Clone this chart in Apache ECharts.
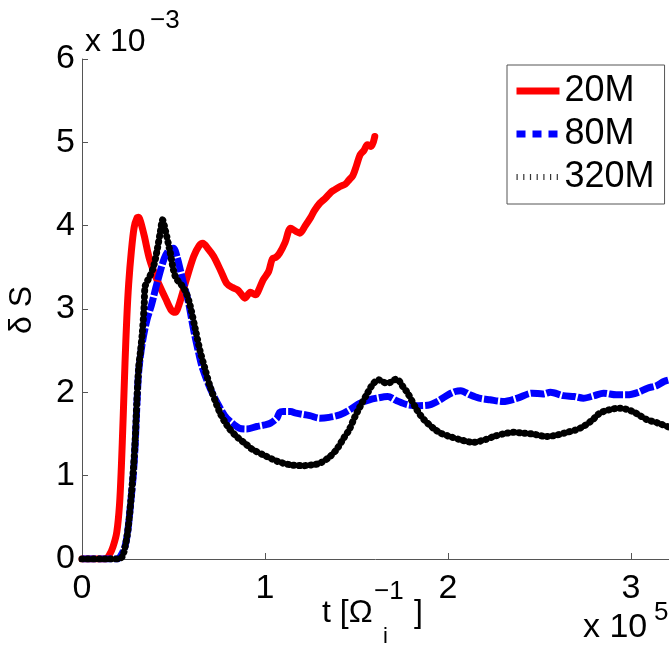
<!DOCTYPE html>
<html lang="en">
<head>
<meta charset="UTF-8">
<title>delta S</title>
<script src="https://cdnjs.cloudflare.com/ajax/libs/echarts/6.0.0/echarts.min.js"></script>
<style>
  html, body { margin: 0; padding: 0; background: #fff; }
  #chart { width: 669px; height: 654px; }
</style>
</head>
<body>
<div id="chart"></div>
<script>
// t in units of 1e5, dS in units of 1e-3
const seriesNames = ['20M', '80M', '320M'];

const red20M = [
  [0, 0], [0.1, 0], [0.13, 0], [0.15, 0.05], [0.17, 0.15], [0.19, 0.32], [0.205, 0.65], [0.215, 1.1],
  [0.225, 1.7], [0.235, 2.35], [0.245, 2.9], [0.255, 3.3], [0.27, 3.7], [0.285, 3.98], [0.3, 4.09],
  [0.31, 4.1], [0.32, 4.05], [0.34, 3.88], [0.37, 3.59], [0.41, 3.35], [0.46, 3.11], [0.49, 2.98],
  [0.51, 2.96], [0.53, 3.05], [0.57, 3.35], [0.61, 3.63], [0.64, 3.76], [0.66, 3.79], [0.69, 3.72],
  [0.72, 3.63], [0.76, 3.45], [0.79, 3.31], [0.82, 3.26], [0.85, 3.23], [0.87, 3.18], [0.89, 3.13],
  [0.92, 3.2], [0.95, 3.17], [0.97, 3.25], [0.99, 3.35], [1.02, 3.45], [1.04, 3.6], [1.06, 3.62],
  [1.08, 3.67], [1.11, 3.8], [1.14, 3.97], [1.17, 3.93], [1.19, 3.91], [1.22, 4.0], [1.25, 4.1],
  [1.27, 4.18], [1.3, 4.27], [1.33, 4.33], [1.36, 4.4], [1.38, 4.43], [1.41, 4.47], [1.44, 4.5],
  [1.46, 4.55], [1.48, 4.6], [1.5, 4.72], [1.52, 4.85], [1.54, 4.9], [1.56, 4.97], [1.58, 4.95],
  [1.6, 5.07]
];

const blue80M = [
  [0, 0], [0.15, 0], [0.195, 0], [0.215, 0.05], [0.235, 0.15], [0.25, 0.33], [0.265, 0.65], [0.28, 1.0],
  [0.29, 1.35], [0.3, 1.85], [0.31, 2.25], [0.33, 2.6], [0.355, 2.87], [0.38, 3.05], [0.41, 3.31],
  [0.45, 3.61], [0.48, 3.72], [0.5, 3.73], [0.52, 3.62], [0.55, 3.35], [0.58, 3.1], [0.61, 2.75],
  [0.64, 2.45], [0.66, 2.28], [0.7, 2.05], [0.74, 1.87], [0.78, 1.72], [0.81, 1.65], [0.86, 1.57],
  [0.9, 1.56], [0.955, 1.59], [1.0, 1.61], [1.03, 1.63], [1.065, 1.69], [1.08, 1.76], [1.1, 1.77],
  [1.14, 1.77], [1.17, 1.75], [1.245, 1.72], [1.3, 1.69], [1.35, 1.7], [1.41, 1.73], [1.47, 1.8],
  [1.52, 1.87], [1.57, 1.91], [1.61, 1.93], [1.67, 1.95], [1.72, 1.9], [1.78, 1.85], [1.84, 1.84],
  [1.9, 1.85], [1.95, 1.9], [2.0, 1.97], [2.04, 2.01], [2.07, 2.02], [2.12, 1.97], [2.17, 1.93],
  [2.23, 1.91], [2.3, 1.89], [2.38, 1.93], [2.46, 1.99], [2.52, 1.98], [2.56, 2.0], [2.63, 1.96],
  [2.69, 1.95], [2.74, 1.93], [2.8, 1.96], [2.85, 1.99], [2.92, 1.97], [2.98, 1.97], [3.04, 2.0],
  [3.09, 2.05], [3.14, 2.08], [3.18, 2.13], [3.21, 2.15]
];

const black320M = [
  [0, 0], [0.15, 0], [0.2, 0], [0.22, 0.03], [0.235, 0.14], [0.25, 0.33], [0.265, 0.65], [0.28, 1.05],
  [0.29, 1.4], [0.3, 1.9], [0.31, 2.3], [0.32, 2.5], [0.33, 2.72], [0.34, 3.05], [0.345, 3.27],
  [0.37, 3.39], [0.39, 3.5], [0.41, 3.7], [0.43, 3.95], [0.44, 4.07], [0.455, 3.95], [0.48, 3.7],
  [0.51, 3.39], [0.55, 3.27], [0.57, 3.19], [0.59, 3.05], [0.62, 2.75], [0.645, 2.5], [0.67, 2.3],
  [0.7, 2.07], [0.755, 1.75], [0.8, 1.58], [0.845, 1.47], [0.9, 1.37], [0.935, 1.31], [1.0, 1.24],
  [1.07, 1.17], [1.14, 1.13], [1.21, 1.12], [1.26, 1.13], [1.3, 1.15], [1.35, 1.22], [1.39, 1.31],
  [1.43, 1.45], [1.46, 1.55], [1.49, 1.7], [1.52, 1.83], [1.56, 1.99], [1.59, 2.1], [1.62, 2.15],
  [1.65, 2.12], [1.67, 2.11], [1.72, 2.16], [1.75, 2.08], [1.78, 1.99], [1.83, 1.79], [1.87, 1.67],
  [1.92, 1.57], [1.96, 1.51], [2.01, 1.47], [2.07, 1.43], [2.14, 1.4], [2.2, 1.43], [2.25, 1.47],
  [2.3, 1.5], [2.36, 1.52], [2.41, 1.51], [2.46, 1.5], [2.54, 1.47], [2.6, 1.49], [2.65, 1.52],
  [2.7, 1.55], [2.74, 1.59], [2.79, 1.67], [2.83, 1.75], [2.88, 1.79], [2.94, 1.81], [3.01, 1.77],
  [3.05, 1.72], [3.09, 1.67], [3.15, 1.63], [3.21, 1.58]
];

const FONT = '"Liberation Sans", Arial, sans-serif';
const axisColor = '#555';

const chart = echarts.init(document.getElementById('chart'));

const option = {
  animation: false,
  backgroundColor: '#fff',
  grid: { left: 82, top: 59, right: 0, bottom: 95 },
  xAxis: {
    type: 'value', min: 0, max: 3.208, interval: 1,
    axisLine: { lineStyle: { color: axisColor, width: 1 } },
    axisTick: { inside: true, length: 6, lineStyle: { color: axisColor } },
    axisLabel: { color: '#000', fontSize: 34, fontFamily: FONT, margin: 13, showMaxLabel: false },
    splitLine: { show: false }
  },
  yAxis: {
    type: 'value', min: 0, max: 6, interval: 1,
    axisLine: { show: true, lineStyle: { color: axisColor, width: 1 } },
    axisTick: { show: true, inside: true, length: 6, lineStyle: { color: axisColor } },
    axisLabel: { color: '#000', fontSize: 34, fontFamily: FONT, margin: 7 },
    splitLine: { show: false }
  },
  legend: {
    orient: 'vertical', left: 507, top: 65,
    backgroundColor: '#fff', borderColor: '#555', borderWidth: 1,
    padding: [8, 10, 9, 6], itemGap: 7, itemWidth: 43, itemHeight: 14,
    itemStyle: { color: 'rgba(0,0,0,0)', borderWidth: 0 },
    textStyle: { color: '#000', fontSize: 36, fontFamily: FONT },
    data: [
      { name: seriesNames[0], lineStyle: { width: 7, cap: 'butt' } },
      { name: seriesNames[1], lineStyle: { type: [9, 7], width: 7 } },
      { name: seriesNames[2], lineStyle: { type: [1.2, 5.5], width: 6, cap: 'butt', color: '#333' } }
    ]
  },
  series: [
    {
      name: seriesNames[0], type: 'line', data: red20M, symbol: 'none', smooth: 0.3,
      lineStyle: { color: '#ff0000', width: 7, cap: 'round', join: 'round' },
      itemStyle: { color: '#ff0000' }
    },
    {
      name: seriesNames[1], type: 'line', data: blue80M, symbol: 'none', smooth: 0.3,
      lineStyle: { color: '#0000ff', width: 7, type: [14, 2], join: 'round' },
      itemStyle: { color: '#0000ff' }
    },
    {
      name: seriesNames[2], type: 'line', data: black320M, symbol: 'none', smooth: 0.3,
      lineStyle: { color: '#000', width: 7, type: [0.5, 5.2], cap: 'round', join: 'round' },
      itemStyle: { color: '#000' }
    }
  ],
  graphic: [
    { type: 'text', left: 85, top: 26, style: { text: 'x 10', font: '32px ' + FONT, fill: '#000' } },
    { type: 'text', left: 150, top: 8, style: { text: '\u22123', font: '26px ' + FONT, fill: '#000' } },
    { type: 'text', left: 583, top: 611, style: { text: 'x 10', font: '34px ' + FONT, fill: '#000' } },
    { type: 'text', left: 654, top: 600, style: { text: '5', font: '26px ' + FONT, fill: '#000' } },
    { type: 'text', left: 322, top: 597, style: { text: 't [\u03a9', font: '32px ' + FONT, fill: '#000' } },
    { type: 'text', left: 374, top: 579, style: { text: '\u22121', font: '26px ' + FONT, fill: '#000' } },
    { type: 'text', left: 383, top: 626, style: { text: 'i', font: '22px ' + FONT, fill: '#000' } },
    { type: 'text', left: 414, top: 597, style: { text: ']', font: '32px ' + FONT, fill: '#000' } },
    {
      type: 'text', x: 22, y: 310, rotation: Math.PI / 2,
      style: { text: '\u03b4 S', font: '32px ' + FONT, fill: '#000', align: 'center', verticalAlign: 'middle' }
    }
  ]
};

chart.setOption(option);
</script>
</body>
</html>
